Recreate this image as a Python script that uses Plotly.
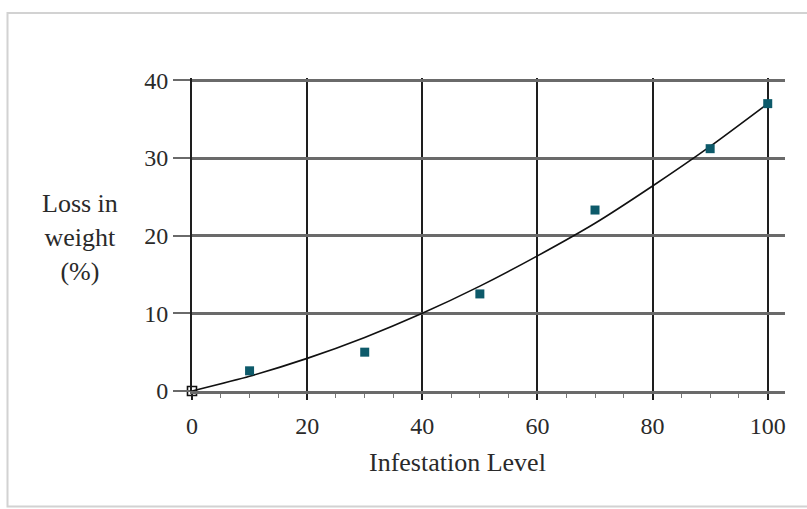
import plotly.graph_objects as go

# Measured infestation trial
infestation = [0, 10, 30, 50, 70, 90, 100]
weight_loss = [0, 2.6, 5.0, 12.5, 23.3, 31.2, 37.0]

# Fitted trend curve
curve_x = [0, 10, 20, 30, 40, 50, 60, 70, 80, 90, 100]
curve_y = [0, 1.9, 4.2, 6.9, 10.0, 13.5, 17.4, 21.6, 26.4, 31.5, 37.0]

x_ticks = [0, 20, 40, 60, 80, 100]
y_ticks = [0, 10, 20, 30, 40]

FONT = "Liberation Serif"
TEXT = "#2a2a2a"

fig = go.Figure()

fig.add_trace(go.Scatter(
    x=curve_x, y=curve_y, mode="lines",
    line=dict(color="#111111", width=1.6, shape="spline", smoothing=0.6),
    hoverinfo="skip", showlegend=False,
))

fig.add_trace(go.Scatter(
    x=infestation[1:], y=weight_loss[1:], mode="markers",
    marker=dict(symbol="square", size=9, color="#0d5a6a"),
    showlegend=False,
))

fig.add_trace(go.Scatter(
    x=infestation[:1], y=weight_loss[:1], mode="markers",
    marker=dict(symbol="square-open", size=9, color="#111111", line=dict(width=1.6)),
    showlegend=False, cliponaxis=False,
))

L, R, T, B = 192, 22, 78, 118
PW = 807 - L - R
PH = 509 - T - B

def px_to_paper_x(px):
    return (px - L) / PW

def px_to_paper_y(py):
    return (509 - B - py) / PH

fig.update_layout(
    width=807, height=509,
    margin=dict(l=L, r=R, t=T, b=B, pad=0),
    paper_bgcolor="white", plot_bgcolor="white",
    font=dict(family=FONT, size=24, color=TEXT),
    xaxis=dict(
        range=[0, 103], tickvals=x_ticks, ticktext=[str(v) for v in x_ticks],
        showgrid=True, gridcolor="#1e1e1e", gridwidth=2,
        zeroline=False, showline=True, linecolor="#6a6a6a", linewidth=3,
        ticks="outside", ticklen=6, tickwidth=2, tickcolor="#1e1e1e",
        ticklabelstandoff=5,
        minor=dict(dtick=5, ticks="outside", ticklen=4, tickwidth=1, tickcolor="#777777", showgrid=False),
        tickfont=dict(family=FONT, size=24, color=TEXT),
    ),
    yaxis=dict(
        range=[0, 40.3], tickvals=y_ticks, ticktext=[str(v) for v in y_ticks],
        showgrid=True, gridcolor="#6a6a6a", gridwidth=3,
        zeroline=False, showline=True, linecolor="#1e1e1e", linewidth=2,
        ticks="outside", ticklen=17, tickwidth=2, tickcolor="#6a6a6a",
        tickfont=dict(family=FONT, size=24, color=TEXT),
    ),
    annotations=[
        dict(text="Infestation Level", xref="paper", yref="paper",
             x=px_to_paper_x(457), y=px_to_paper_y(462), xanchor="center", yanchor="middle",
             showarrow=False, font=dict(family=FONT, size=26, color=TEXT)),
        dict(text="Loss in<br>weight<br>(%)", xref="paper", yref="paper",
             x=px_to_paper_x(80), y=px_to_paper_y(237), xanchor="center", yanchor="middle",
             showarrow=False, align="center", font=dict(family=FONT, size=26, color=TEXT)),
    ],
    shapes=[
        dict(type="rect", xref="paper", yref="paper", layer="below",
             x0=px_to_paper_x(7.5), x1=px_to_paper_x(812),
             y0=px_to_paper_y(506.5), y1=px_to_paper_y(13),
             line=dict(color="#d2d2d2", width=2), fillcolor="rgba(0,0,0,0)"),
    ],
)

fig.write_html("out.html")
